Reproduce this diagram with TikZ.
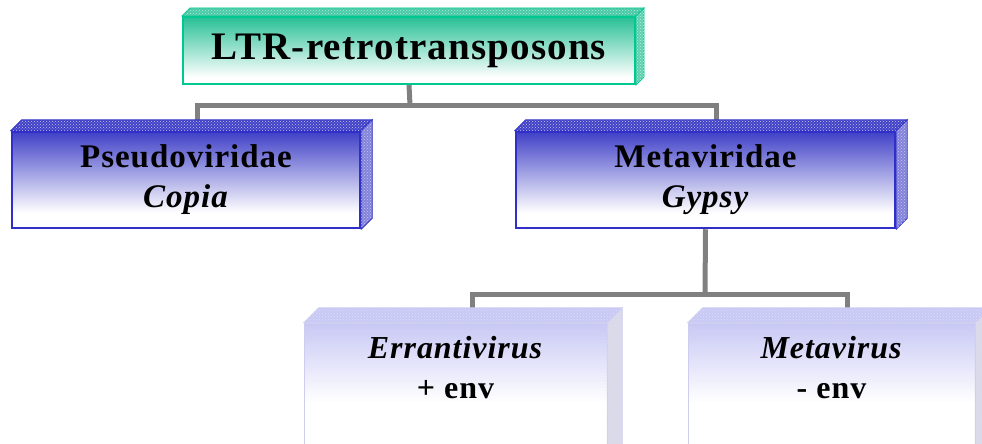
\documentclass[tikz,border=0pt]{standalone}
\usepackage{fontspec}
\setmainfont{Liberation Serif}
\usetikzlibrary{patterns}
\definecolor{tealB}{RGB}{0,200,145}
\definecolor{tealT}{RGB}{40,192,150}
\definecolor{blueB}{RGB}{48,48,200}
\definecolor{blueT}{RGB}{65,65,200}
\definecolor{lavT}{RGB}{200,200,245}
\definecolor{lavB}{RGB}{205,205,240}
\definecolor{connC}{RGB}{128,128,128}
\pgfdeclareverticalshading{tealshade}{100bp}{color(0bp)=(white); color(25bp)=(white); color(30bp)=(white); color(75bp)=(tealT); color(100bp)=(tealT)}
\pgfdeclareverticalshading{blueshade}{100bp}{color(0bp)=(white); color(25bp)=(white); color(33bp)=(white); color(75bp)=(blueT); color(100bp)=(blueT)}
\pgfdeclareverticalshading{lavshade}{100bp}{color(0bp)=(white); color(25bp)=(white); color(48bp)=(white); color(75bp)=(lavT); color(100bp)=(lavT)}
\pgfdeclarelayer{background}
\pgfsetlayers{background,main}
\newcommand{\slabfaces}[6]{%
  % #1 node, #2 depth, #3 top fill, #4 side fill, #5 dot colour, #6 edge colour
  \filldraw[fill=#3, draw=#6, line width=0.8pt]
    (#1.north west) -- ([shift={(#2,-#2)}]#1.north west)
    -- ([shift={(#2,-#2)}]#1.north east) -- (#1.north east) -- cycle;
  \fill[pattern=crosshatch dots, pattern color=#5]
    (#1.north west) -- ([shift={(#2,-#2)}]#1.north west)
    -- ([shift={(#2,-#2)}]#1.north east) -- (#1.north east) -- cycle;
  \filldraw[fill=#4, draw=#6, line width=0.8pt]
    (#1.north east) -- ([shift={(#2,-#2)}]#1.north east)
    -- ([shift={(#2,-#2)}]#1.south east) -- (#1.south east) -- cycle;
  \fill[pattern=crosshatch dots, pattern color=#5]
    (#1.north east) -- ([shift={(#2,-#2)}]#1.north east)
    -- ([shift={(#2,-#2)}]#1.south east) -- (#1.south east) -- cycle;
}
\tikzset{
  slab/.style={rectangle, inner sep=0pt, align=center, shade},
  topbox/.style={slab, shading=tealshade, draw=tealB, line width=2pt,
    minimum width=452pt, minimum height=67pt,
    font=\bfseries\fontsize{39}{46}\selectfont\addfontfeature{LetterSpace=3}},
  midbox/.style={slab, shading=blueshade, draw=blueB, line width=2.5pt,
    minimum height=96pt,
    font=\bfseries\fontsize{33}{40}\selectfont\addfontfeature{LetterSpace=3}},
  lowbox/.style={slab, shading=lavshade, draw=lavB, line width=0.5pt,
    minimum height=147pt},
  lowtext/.style={anchor=north, inner sep=0pt, align=center,
    font=\bfseries\fontsize{32}{40}\selectfont\addfontfeature{LetterSpace=3}},
  conn/.style={draw=connC, line width=5pt},
}
\begin{document}
\begin{tikzpicture}[x=1pt, y=-1pt]
  \useasboundingbox (0,0) rectangle (982,444);
  \clip (0,0) rectangle (982,444);

  \node[topbox] (top) at (409,50.5) {LTR-retrotransposons};
  \node[midbox, minimum width=348pt] (pseudo) at (186,180) {Pseudoviridae\\\textit{Copia}};
  \node[midbox, minimum width=379pt] (meta) at (705.5,180) {Metaviridae\\\textit{Gypsy}};
  \node[lowbox, minimum width=303pt] (err) at (455.5,396.5) {};
  \node[lowbox, minimum width=287pt] (mv) at (831.5,396.5) {};
  \node[lowtext] (errtxt) at (455.5,336) {\textit{Errantivirus}\\+ env};
  \node[lowtext] (mvtxt) at (831.5,336) {\textit{Metavirus}\\- env};

  \slabfaces{top}{8}{tealT!85!white}{tealT!75!white}{white!70!tealT}{tealB}
  \slabfaces{pseudo}{11}{blueT}{blueT!65!white}{blueT!30!white}{blueB}
  \slabfaces{meta}{11}{blueT}{blueT!65!white}{blueT!30!white}{blueB}
  \slabfaces{err}{15}{lavT}{lavT!70!gray!50!white}{lavT!60!white}{lavB}
  \slabfaces{mv}{15}{lavT}{lavT!70!gray!50!white}{lavT!60!white}{lavB}

  \coordinate (hubA) at (410,105);
  \coordinate (hubB) at (705,294);
  \begin{pgfonlayer}{background}
    \draw[conn] (top.south) -- (hubA);
    \draw[conn] ([xshift=11pt]pseudo.north) |- (hubA) -| ([xshift=10.5pt]meta.north);
    \draw[conn] (meta.south) -- (hubB);
    \draw[conn] ([xshift=16.5pt]err.north) |- (hubB) -| ([xshift=15.5pt]mv.north);
  \end{pgfonlayer}
\end{tikzpicture}
\end{document}
